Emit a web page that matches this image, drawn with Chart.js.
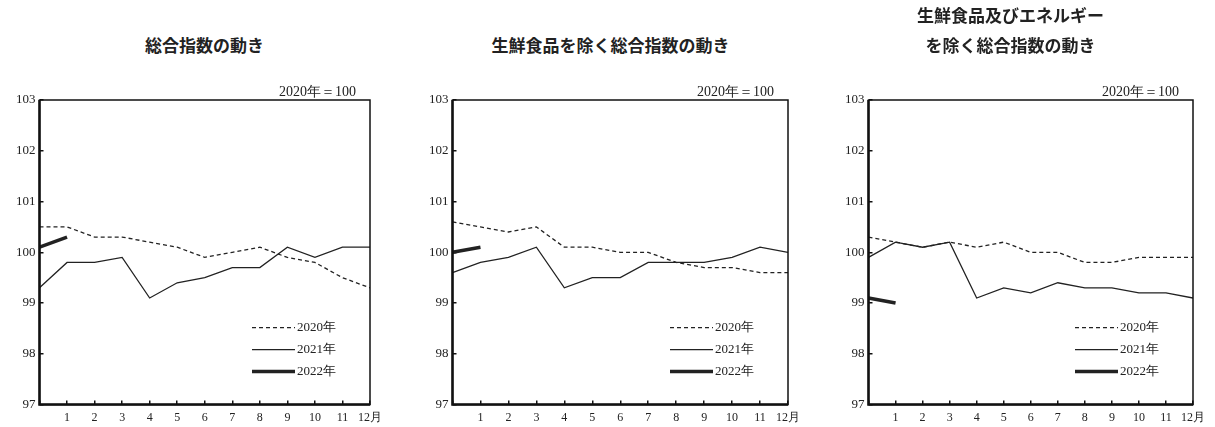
<!DOCTYPE html>
<html><head><meta charset="utf-8">
<script src="https://cdn.jsdelivr.net/npm/chart.js@4"></script>
<style>
body{margin:0;background:#fff;width:1215px;height:427px;position:relative;overflow:hidden}
.p{position:absolute;top:0;width:405px;height:427px}
.t{position:absolute;top:0;width:405px;text-align:center;font:bold 17px "Noto Sans CJK JP";color:#222;line-height:30px}
canvas{position:absolute;left:0;top:0}
</style></head><body>
<div class="p" style="left:0"><div class="t" style="left:2px;top:30px">総合指数の動き</div><canvas id="c0" width="405" height="427"></canvas></div>
<div class="p" style="left:405px"><div class="t" style="left:3px;top:30px">生鮮食品を除く総合指数の動き</div><canvas id="c1" width="405" height="427"></canvas></div>
<div class="p" style="left:810px"><div class="t" style="left:-2px;top:0">生鮮食品及びエネルギー<br>を除く総合指数の動き</div><canvas id="c2" width="405" height="427"></canvas></div>
<script>
const months = [0, 1, 2, 3, 4, 5, 6, 7, 8, 9, 10, 11, 12];
const tickLabels = ['', '1', '2', '3', '4', '5', '6', '7', '8', '9', '10', '11', '12月'];
const seriesNames = ['2020年', '2021年', '2022年'];

const total2020 = [100.5, 100.5, 100.3, 100.3, 100.2, 100.1, 99.9, 100.0, 100.1, 99.9, 99.8, 99.5, 99.3];
const total2021 = [99.3, 99.8, 99.8, 99.9, 99.1, 99.4, 99.5, 99.7, 99.7, 100.1, 99.9, 100.1, 100.1];
const total2022 = [100.1, 100.3];

const core2020 = [100.6, 100.5, 100.4, 100.5, 100.1, 100.1, 100.0, 100.0, 99.8, 99.7, 99.7, 99.6, 99.6];
const core2021 = [99.6, 99.8, 99.9, 100.1, 99.3, 99.5, 99.5, 99.8, 99.8, 99.8, 99.9, 100.1, 100.0];
const core2022 = [100.0, 100.1];

const coreCore2020 = [100.3, 100.2, 100.1, 100.2, 100.1, 100.2, 100.0, 100.0, 99.8, 99.8, 99.9, 99.9, 99.9];
const coreCore2021 = [99.9, 100.2, 100.1, 100.2, 99.1, 99.3, 99.2, 99.4, 99.3, 99.3, 99.2, 99.2, 99.1];
const coreCore2022 = [99.1, 99.0];

const serif = 'Liberation Serif';

// frame + base note + legend inside the plot
const decor = {
  id: 'decor',
  afterDraw(c) {
    const { ctx, chartArea: a } = c;
    ctx.save();
    ctx.strokeStyle = '#111';
    ctx.lineWidth = 1.5;
    ctx.strokeRect(a.left, a.top, a.right - a.left, a.bottom - a.top);
    ctx.lineWidth = 2.5;
    ctx.beginPath();
    ctx.moveTo(a.left, a.top); ctx.lineTo(a.left, a.bottom); ctx.lineTo(a.right, a.bottom);
    ctx.stroke();
    ctx.fillStyle = '#222';
    ctx.font = '14px ' + serif;
    ctx.textAlign = 'right';
    ctx.textBaseline = 'bottom';
    ctx.fillText('2020年＝100', a.right - 14, a.top - 1);
    ctx.textAlign = 'left';
    ctx.textBaseline = 'middle';
    c.data.datasets.forEach((d, i) => {
      const y = a.bottom - 77 + i * 22;
      const x = a.right - 118;
      ctx.beginPath();
      ctx.strokeStyle = d.borderColor;
      ctx.lineWidth = d.borderWidth;
      ctx.setLineDash(d.borderDash || []);
      ctx.moveTo(x, y); ctx.lineTo(x + 43, y);
      ctx.stroke();
      ctx.setLineDash([]);
      ctx.font = '13px ' + serif;
      ctx.fillText(d.label, x + 45, y);
    });
    ctx.restore();
  }
};

function pts(vals) { return vals.map((v, i) => ({ x: months[i], y: v })); }

function draw(id, a, b, c, padLeft, padRight) {
  new Chart(document.getElementById(id), {
    type: 'line',
    data: {
      datasets: [
        { label: seriesNames[0], data: pts(a), borderColor: '#222', borderWidth: 1.3, borderDash: [4, 3] },
        { label: seriesNames[1], data: pts(b), borderColor: '#222', borderWidth: 1.3 },
        { label: seriesNames[2], data: pts(c), borderColor: '#222', borderWidth: 3.5 },
      ],
    },
    options: {
      responsive: false,
      animation: false,
      elements: { point: { radius: 0 }, line: { tension: 0 } },
      layout: { padding: { left: padLeft, right: padRight, top: 100, bottom: -8 } },
      plugins: { legend: { display: false }, tooltip: { enabled: false } },
      scales: {
        x: {
          type: 'linear', min: 0, max: 12,
          afterBuildTicks: s => { s.ticks = months.map(v => ({ value: v })); },
          ticks: { callback: v => tickLabels[v], maxRotation: 0, autoSkip: false, padding: 10, color: '#222', font: { family: serif, size: 12 } },
          grid: { drawOnChartArea: false, tickLength: -4, color: '#111', lineWidth: 1.5 },
          border: { display: false },
        },
        y: {
          min: 97, max: 103,
          ticks: { stepSize: 1, padding: 8, color: '#222', font: { family: serif, size: 13 } },
          grid: { drawOnChartArea: false, tickLength: -4, color: '#111', lineWidth: 1.5 },
          border: { display: false },
        },
      },
    },
    plugins: [decor],
  });
}

draw('c0', total2020, total2021, total2022, 8, 35);
draw('c1', core2020, core2021, core2022, 16, 20);
draw('c2', coreCore2020, coreCore2021, coreCore2022, 27, 7);
</script>
</body></html>
